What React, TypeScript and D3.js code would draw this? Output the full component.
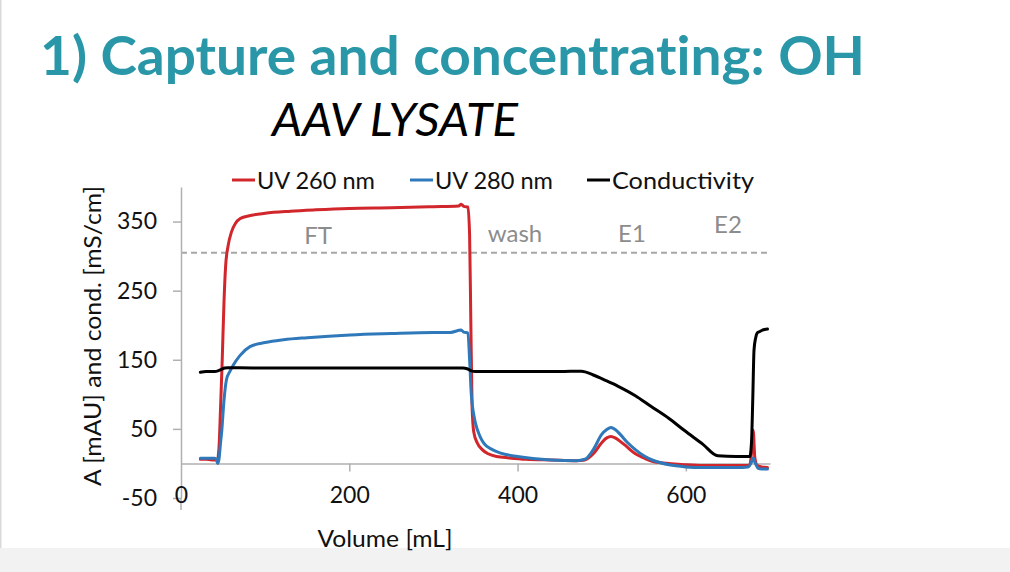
import { useEffect, useRef } from 'react';
import * as d3 from 'd3';

// UV 260 nm (red)
const uv260Vol = [23, 30, 40, 43, 45, 47, 49, 51, 53, 56, 60, 65, 70, 80, 100, 130, 160, 200, 250, 300, 330, 333, 336, 341, 343, 344.5, 346, 348, 352, 358, 365, 375, 390, 410, 440, 470, 480, 490, 500, 506, 511, 516, 522, 530, 540, 550, 560, 570, 580, 600, 620, 640, 660, 672, 676, 678, 680, 682, 685, 690, 697];
const uv260Val = [6, 6, 5, 6, 20, 80, 150, 230, 285, 315, 335, 348, 354, 358, 362, 365, 367, 369, 370, 371.5, 372.5, 375, 372, 371, 330, 200, 80, 45, 30, 20, 14, 10, 8, 6, 5, 4, 5, 14, 30, 37, 39, 37, 32, 24, 14, 8, 3, 1, 0, -2, -3, -3, -3, -3, -2, 15, 48, 8, -3, -5, -6];

// UV 280 nm (blue)
const uv280Vol = [23, 30, 40, 42, 43.5, 45, 47, 48.5, 51, 54, 58, 62, 70, 82, 100, 122, 150, 201, 250, 300, 320, 333, 336, 341, 343, 345, 348, 350, 355, 360, 370, 380, 400, 440, 470, 480, 490, 500, 506, 511, 516, 522, 530, 540, 550, 560, 570, 580, 600, 620, 640, 660, 674, 678, 680, 682, 686, 690, 697];
const uv280Val = [7.5, 7.5, 7.5, 6, 0, 5, 30, 48, 90, 121, 133, 142, 156, 169, 175, 179, 182, 186, 188, 189.5, 189.6, 193, 190, 189, 150, 100, 70, 58, 40, 29, 20, 15, 10, 5, 4, 6, 20, 42, 49, 52, 49, 42, 31, 20, 11, 5, 1, -2, -5, -6, -6, -6, -5, 2, 8, 2, -7, -8, -8];

// Conductivity (black)
const condVol = [23, 30, 40, 44, 48, 52, 56, 70, 100, 200, 300, 335, 340, 345, 350, 400, 450, 476, 490, 505, 519, 540, 558, 580, 598, 620, 638, 660, 676, 678, 679.5, 681, 683, 685, 688, 691, 697];
const condVal = [132, 133, 133, 134, 136, 138, 138.5, 138.5, 138, 138, 138, 138, 137, 134, 133, 133, 133, 133.5, 128, 120, 112, 98, 83, 65, 48, 28, 11, 10, 10, 30, 92, 164, 182, 189, 191, 193, 194.5];

const yTicks = [-50, 50, 150, 250, 350];
const xTicks = [0, 200, 400, 600];
const phaseLabels = ['FT', 'wash', 'E1', 'E2'];
const phaseX = [163, 397, 536, 650];
const phaseY = [318, 320, 320, 333];
const dashedLevel = 305;

const FONT = 'Lato, "Open Sans", sans-serif';

const series = [
  { name: 'UV 260 nm', color: '#d0262c', vol: uv260Vol, val: uv260Val },
  { name: 'UV 280 nm', color: '#2f78b9', vol: uv280Vol, val: uv280Val },
  { name: 'Conductivity', color: '#000000', vol: condVol, val: condVal },
];

export default function App() {
  const axRef = useRef<SVGGElement>(null);

  const x = d3.scaleLinear().domain([0, 700]).range([181, 770]);
  const y = d3.scaleLinear().domain([-50, 400]).range([498, 187]);

  useEffect(() => {
    if (!axRef.current) return;
    const g = d3.select(axRef.current);
    g.selectAll('*').remove();

    // y axis
    g.append('g')
      .attr('transform', `translate(${x(0)},0)`)
      .call(d3.axisLeft(y).tickValues(yTicks).tickSize(8).tickSizeOuter(0).tickPadding(16).tickFormat(d => String(d)))
      .call(s => s.select('.domain').attr('stroke', '#b0b0b0').attr('stroke-width', 1.5))
      .call(s => s.selectAll('.tick line').attr('stroke', '#b0b0b0').attr('stroke-width', 1.5))
      .call(s => s.selectAll('.tick text').attr('fill', '#111').attr('font-size', 23).attr('font-family', FONT));

    // extension of the y axis through the "0" label
    g.append('line')
      .attr('x1', x(0)).attr('x2', x(0))
      .attr('y1', y(-50)).attr('y2', y(-50) + 12)
      .attr('stroke', '#b0b0b0').attr('stroke-width', 1.5);

    // x axis line at zero
    g.append('g')
      .attr('transform', `translate(0,${y(0)})`)
      .call(d3.axisBottom(x).tickValues([200, 400, 600]).tickSize(8).tickSizeOuter(0).tickFormat(() => ''))
      .call(s => s.select('.domain').attr('stroke', '#b0b0b0').attr('stroke-width', 1.5))
      .call(s => s.selectAll('.tick line').attr('stroke', '#b0b0b0').attr('stroke-width', 1.5));

    // x tick labels at the bottom
    g.append('g')
      .attr('transform', `translate(0,${y(-50) - 11})`)
      .call(d3.axisBottom(x).tickValues(xTicks).tickSize(0).tickPadding(0).tickFormat(d => String(d)))
      .call(s => s.select('.domain').remove())
      .call(s => s.selectAll('.tick text').attr('fill', '#111').attr('font-size', 23).attr('font-family', FONT));
  }, []);

  const line = (vol: number[], val: number[]) =>
    d3.line<number>()
      .x((_, i) => x(vol[i]))
      .y(d => y(d))
      .curve(d3.curveMonotoneX)(val) ?? '';

  const legendX = [232, 410, 587];
  const legendW = [118, 118, 142];

  return (
    <div style={{ position: 'absolute', left: 0, top: 0 }}>
      <svg width={1010} height={572} style={{ display: 'block', background: '#fff' }}>
        <rect x={0} y={548} width={1010} height={24} fill="#f2f2f2" />
        <rect x={0} y={0} width={1.5} height={548} fill="#d9d9d9" />

        <text x={40} y={75} fontFamily={FONT} fontWeight={700} fontSize={53} fill="#2a97a8"
          style={{ fontVariantLigatures: 'none' }}
          textLength={825} lengthAdjust="spacingAndGlyphs">1) Capture and concentrating: OH</text>
        <text x={272} y={136} fontFamily={FONT} fontStyle="italic" fontSize={46} fill="#000"
          textLength={246} lengthAdjust="spacingAndGlyphs">AAV LYSATE</text>

        {series.map((s, i) => (
          <g key={s.name}>
            <line x1={legendX[i]} x2={legendX[i] + 23} y1={180} y2={180} stroke={s.color} strokeWidth={3} />
            <text x={legendX[i] + 25} y={188.5} fontFamily={FONT} fontSize={23} fill="#111"
              textLength={legendW[i]} lengthAdjust="spacingAndGlyphs">{s.name}</text>
          </g>
        ))}

        <line x1={x(0)} x2={x(700)} y1={y(dashedLevel)} y2={y(dashedLevel)}
          stroke="#a6a6a6" strokeWidth={2} strokeDasharray="6,4" />

        {phaseLabels.map((t, i) => (
          <text key={t} x={x(phaseX[i])} y={y(phaseY[i])} textAnchor="middle" fontFamily={FONT}
            fontSize={24} fill="#8c8c8c">{t}</text>
        ))}

        <g ref={axRef} />

        {series.map(s => (
          <path key={s.name} d={line(s.vol, s.val)} fill="none" stroke={s.color} strokeWidth={3}
            strokeLinejoin="round" strokeLinecap="round" />
        ))}

        <text transform="translate(101,336) rotate(-90)" textAnchor="middle" fontFamily={FONT}
          fontSize={23} fill="#111" textLength={300} lengthAdjust="spacingAndGlyphs">A [mAU] and cond. [mS/cm]</text>
        <text x={385} y={547} textAnchor="middle" fontFamily={FONT} fontSize={23} fill="#111"
          textLength={135} lengthAdjust="spacingAndGlyphs">Volume [mL]</text>
      </svg>
    </div>
  );
}
